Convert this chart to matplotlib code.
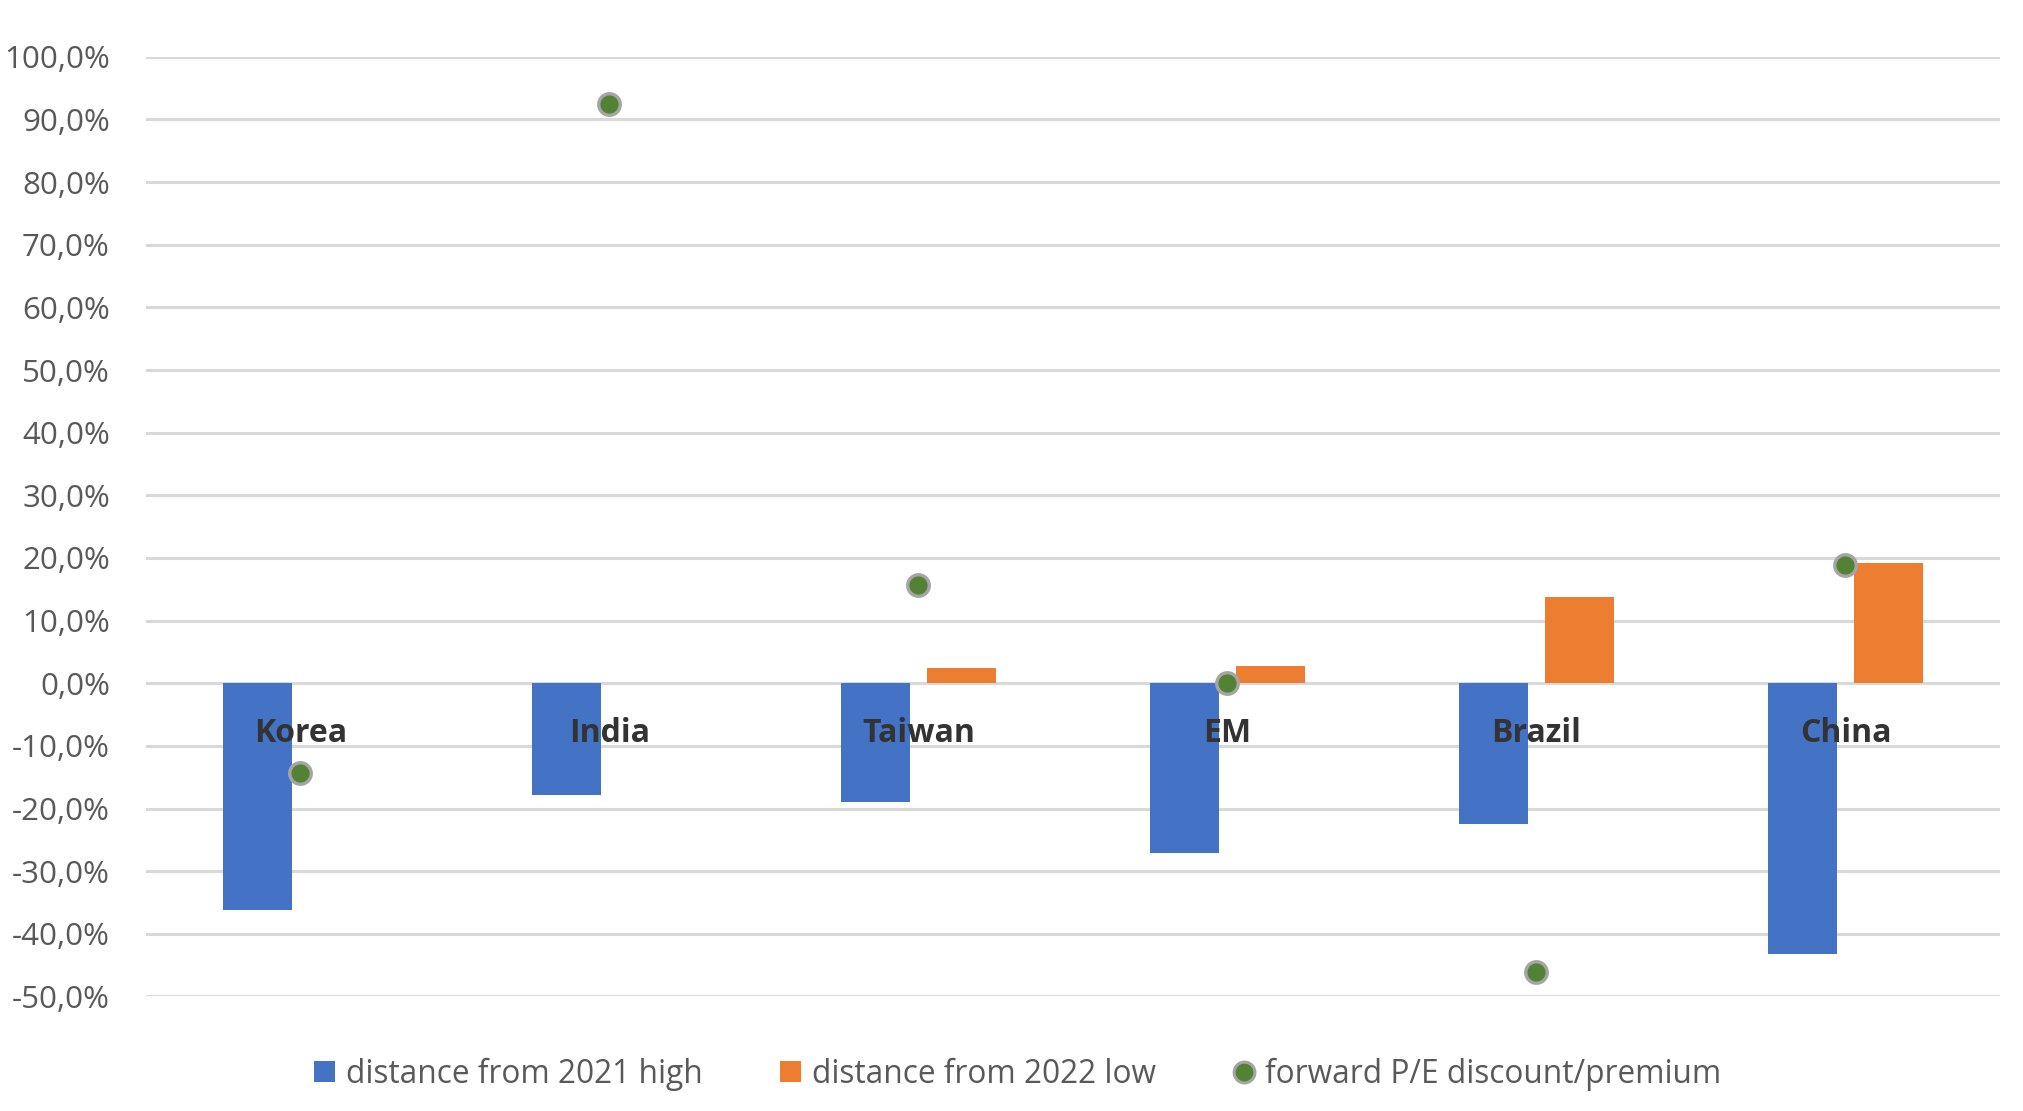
import numpy as np
import matplotlib
matplotlib.use('Agg')
import matplotlib.pyplot as plt
from matplotlib.lines import Line2D
from matplotlib.patches import Patch
from matplotlib.ticker import FuncFormatter

plt.rcParams['font.family'] = ['Open Sans', 'DejaVu Sans']

# data (fractions)
countries = ["Korea", "India", "Taiwan", "EM", "Brazil", "China"]
from_2021_high = [-0.362, -0.179, -0.189, -0.271, -0.224, -0.432]
from_2022_low = [0.0, 0.0, 0.025, 0.027, 0.137, 0.192]
pe_discount = [-0.144, 0.924, 0.157, 0.0, -0.461, 0.188]
y_ticks = np.arange(-0.5, 1.01, 0.1)

blue = "#4472C4"
orange = "#ED7D31"
green = "#548235"


def pct(v, p):
    v = round(v * 100, 1) + 0.0
    if abs(v) < 1e-9:
        v = 0.0
    return ("%.1f%%" % v).replace(".", ",")


fig = plt.figure(figsize=(20.24, 11.11), dpi=100)
ax = fig.add_axes([0.0721, 0.1031, 0.9160, 0.8458])

x = np.arange(len(countries))
w = 0.2235
off = 0.14

ax.bar(x - off, from_2021_high, width=w, color=blue, zorder=3)
ax.bar(x + off, from_2022_low, width=w, color=orange, zorder=3)
ax.plot(x, pe_discount, linestyle="none", marker="o", ms=15.5,
        mfc=green, mec="#A5A5A5", mew=2.4, zorder=4)

ax.set_xlim(-0.5, len(countries) - 0.5)
ax.set_ylim(-0.5, 1.0)
ax.set_yticks(y_ticks)
ax.yaxis.set_major_formatter(FuncFormatter(pct))
ax.tick_params(axis="y", length=0, labelsize=22.5, labelcolor="#595959", pad=26)
ax.set_xticks([])
ax.grid(axis="y", color="#D9D9D9", lw=2.2, zorder=0)
for s in ax.spines.values():
    s.set_visible(False)

for i, c in enumerate(countries):
    ax.text(i, -0.08, c, ha="center", va="center", fontsize=23,
            fontweight="bold", color="#333333", zorder=5)

handles = [
    Patch(facecolor=blue, label="distance from 2021 high"),
    Patch(facecolor=orange, label="distance from 2022 low"),
    Line2D([], [], linestyle="none", marker="o", ms=15, mfc=green,
           mec="#A5A5A5", mew=2.2, label="forward P/E discount/premium"),
]
leg = fig.legend(handles=handles, loc="center", bbox_to_anchor=(0.503, 0.033),
                 ncol=3, frameon=False, fontsize=22.8, handlelength=0.65,
                 handleheight=0.65, handletextpad=0.35, columnspacing=2.45)
for t in leg.get_texts():
    t.set_color("#595959")

fig.savefig("out.png", dpi=100)
